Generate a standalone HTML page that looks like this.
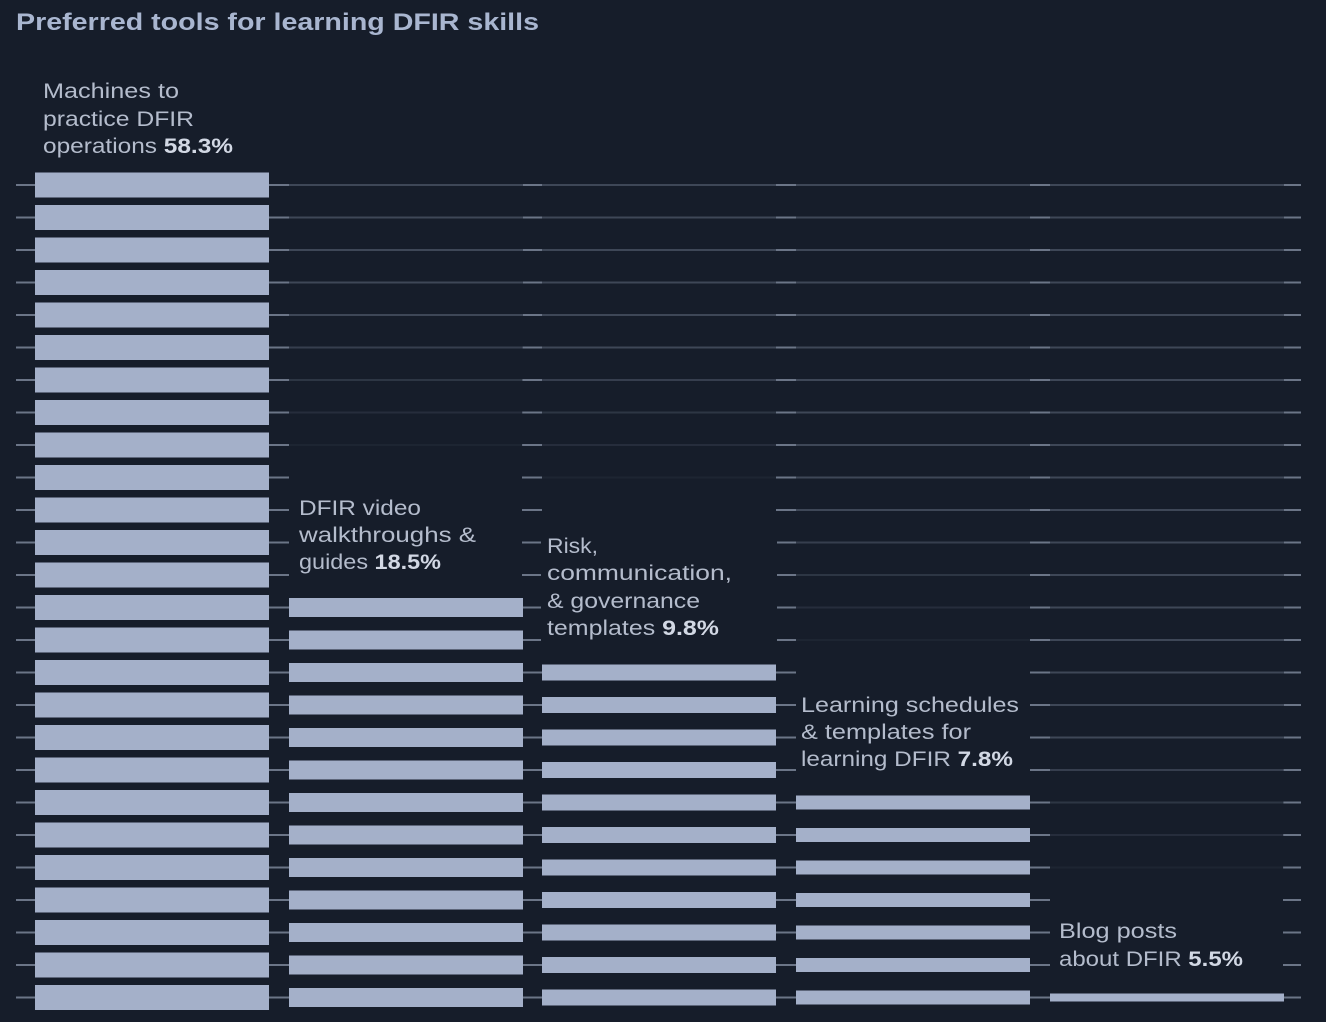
<!DOCTYPE html>
<html><head><meta charset="utf-8"><style>
html,body{margin:0;padding:0;background:#161d2a;}
svg{display:block;}
text{font-family:"Liberation Sans",sans-serif;fill:#b4bccc;font-size:21px;}
.b{font-weight:bold;fill:#d2d8e4;}
</style></head><body>
<svg id="s" width="1326" height="1022" xmlns="http://www.w3.org/2000/svg">
<rect width="1326" height="1022" fill="#161d2a"/>
<g id="lines"></g>
<g id="bars"></g>
<g id="bg" fill="#161d2a">
<rect x="293" y="492" width="226" height="86"/>
<rect x="541" y="530" width="236" height="112"/>
<rect x="797" y="689" width="228" height="86"/>
<rect x="1053" y="915" width="228" height="58"/>
</g>
<text x="16" y="30" style="font-size:24px;font-weight:bold;fill:#a9b6d0" textLength="523" lengthAdjust="spacingAndGlyphs">Preferred tools for learning DFIR skills</text>
<text x="43" y="98" textLength="136" lengthAdjust="spacingAndGlyphs">Machines to</text>
<text x="43" y="126" textLength="151" lengthAdjust="spacingAndGlyphs">practice DFIR</text>
<text x="43" y="153" textLength="190" lengthAdjust="spacingAndGlyphs">operations <tspan class="b">58.3%</tspan></text>
<text x="299" y="515" textLength="122" lengthAdjust="spacingAndGlyphs">DFIR video</text>
<text x="299" y="542" textLength="177" lengthAdjust="spacingAndGlyphs">walkthroughs &amp;</text>
<text x="299" y="569" textLength="142" lengthAdjust="spacingAndGlyphs">guides <tspan class="b">18.5%</tspan></text>
<text x="547" y="553" textLength="51" lengthAdjust="spacingAndGlyphs">Risk,</text>
<text x="547" y="580" textLength="185" lengthAdjust="spacingAndGlyphs">communication,</text>
<text x="547" y="608" textLength="153" lengthAdjust="spacingAndGlyphs">&amp; governance</text>
<text x="547" y="635" textLength="172" lengthAdjust="spacingAndGlyphs">templates <tspan class="b">9.8%</tspan></text>
<text x="801" y="712" textLength="218" lengthAdjust="spacingAndGlyphs">Learning schedules</text>
<text x="801" y="739" textLength="170" lengthAdjust="spacingAndGlyphs">&amp; templates for</text>
<text x="801" y="766" textLength="212" lengthAdjust="spacingAndGlyphs">learning DFIR <tspan class="b">7.8%</tspan></text>
<text x="1059" y="938" textLength="118" lengthAdjust="spacingAndGlyphs">Blog posts</text>
<text x="1059" y="966" textLength="184" lengthAdjust="spacingAndGlyphs">about DFIR <tspan class="b">5.5%</tspan></text>
</svg>
<script>
var NS="http://www.w3.org/2000/svg";
var L=document.getElementById("lines"),B=document.getElementById("bars");
function rect(p,x,y,w,h,f,o){var r=document.createElementNS(NS,"rect");r.setAttribute("x",x);r.setAttribute("y",y);r.setAttribute("width",w);r.setAttribute("height",h);r.setAttribute("fill",f);if(o!==undefined)r.setAttribute("opacity",o);p.appendChild(r);}
var gaps=[[16,35],[269,289],[522,542],[776,796],[1030,1050],[1283,1301]];
var cols=[[35,0,25,0],[289,13,19,10],[542,15,16,11],[796,19,14,16],[1050,25,8,23]];
for(var i=0;i<26;i++){var y=185+32.5*i;
 gaps.forEach(function(g){rect(L,g[0],y-1,g[1]-g[0],2,"#6b7587");});
 cols.forEach(function(c,j){if(j==0)return;var lr=c[3];var o;
  if(i>=lr-1)o=0;else if(i<=lr-6)o=1;else o=(lr-1-i)/5;
  if(o>0)rect(L,c[0],y-1,234,2,"#3e4757",o);});
}
cols.forEach(function(c){for(var i=c[1];i<26;i++){var y=185+32.5*i;rect(B,c[0],y-c[2]/2,234,c[2],"#a4b0c9");}});
</script>
</body></html>
